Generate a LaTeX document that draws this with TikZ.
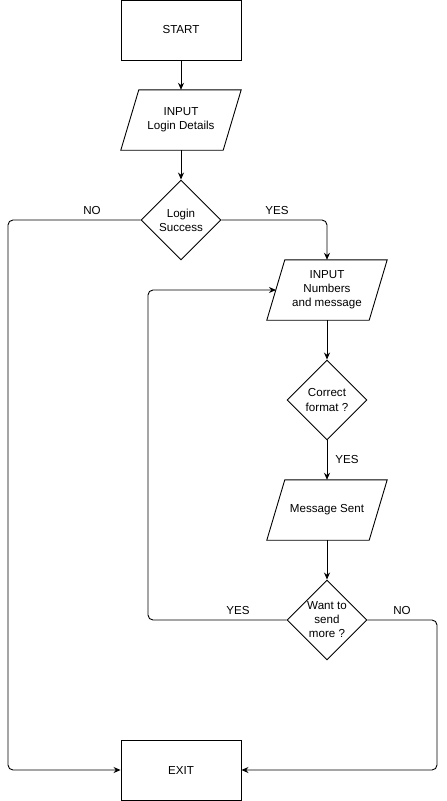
\documentclass[tikz,border=0pt]{standalone}
\usepackage{fontspec}
\setmainfont{Liberation Sans}
\usetikzlibrary{shapes.geometric,arrows.meta}
\begin{document}
\begin{tikzpicture}[x=1pt,y=-1pt,
  font=\fontsize{11.6}{14}\selectfont,
  every node/.style={align=center, inner sep=0pt},
  boxnode/.style={draw, line width=0.9pt, minimum width=120pt, minimum height=60pt},
  ionode/.style={minimum width=120pt, minimum height=60pt},
  decision/.style={draw, line width=0.9pt, diamond, minimum width=80pt, minimum height=80pt, aspect=1},
  link/.style={line width=0.9pt, rounded corners=5pt},
  arrowlink/.style={link, -{Stealth[length=7pt,width=6pt]}},
  lbl/.style={font=\fontsize{11.6}{14}\selectfont}]
\useasboundingbox (0,0) rectangle (447,801);

% process blocks
\node[boxnode] (start) at (181,30) {START};
\node[boxnode] (exit) at (181,770) {EXIT};

% input / output blocks (drawn as parallelograms below)
\node[ionode] (login) at (181,120) {INPUT\\Login Details};
\node[ionode] (nums) at (327,290) {INPUT\\Numbers\\and message};
\node[ionode] (sent) at (327,510) {Message Sent};
\foreach \n in {login,nums,sent}
  \draw[line width=0.9pt] (\n.south west) -- ([xshift=18pt]\n.north west)
    -- (\n.north east) -- ([xshift=-18pt]\n.south east) -- cycle;

% decisions
\node[decision] (ok) at (181,220) {};
\node at (181,220) {Login\\Success};
\node[decision] (fmt) at (327,400) {};
\node at (327,400) {Correct\\format ?};
\node[decision] (more) at (327,620) {};
\node at (327,620) {Want to\\send\\more ?};

% corner points of the routed connectors
\coordinate (noL) at (8,220);
\coordinate (noB) at (8,770);
\coordinate (yesR) at (327,220);
\coordinate (loopL) at (148,620);
\coordinate (loopT) at (148,290);
\coordinate (numsIn) at (276,290);
\coordinate (endR) at (437,620);
\coordinate (endB) at (437,770);

% main flow
\draw[arrowlink] (start) -- (login);
\draw[arrowlink] (login) -- (ok);
\draw[arrowlink] (ok.east) -- (yesR) -- (nums.north);
\draw[arrowlink] (ok.west) -- (noL) -- (noB) -- (exit.west);
\draw[arrowlink] (nums) -- (fmt);
\draw[arrowlink] (fmt) -- (sent);
\draw[arrowlink] (sent) -- (more);
\draw[arrowlink] (more.west) -- (loopL) -- (loopT) -- (numsIn);
\draw[arrowlink] (more.east) -- (endR) -- (endB) -- (exit.east);

% branch labels
\node[lbl] (lNo1) at (92,211) {NO};
\node[lbl] (lYes1) at (277,211) {YES};
\node[lbl] (lYes2) at (347,459) {YES};
\node[lbl] (lYes3) at (238,610) {YES};
\node[lbl] (lNo2) at (402,610) {NO};
\end{tikzpicture}
\end{document}
